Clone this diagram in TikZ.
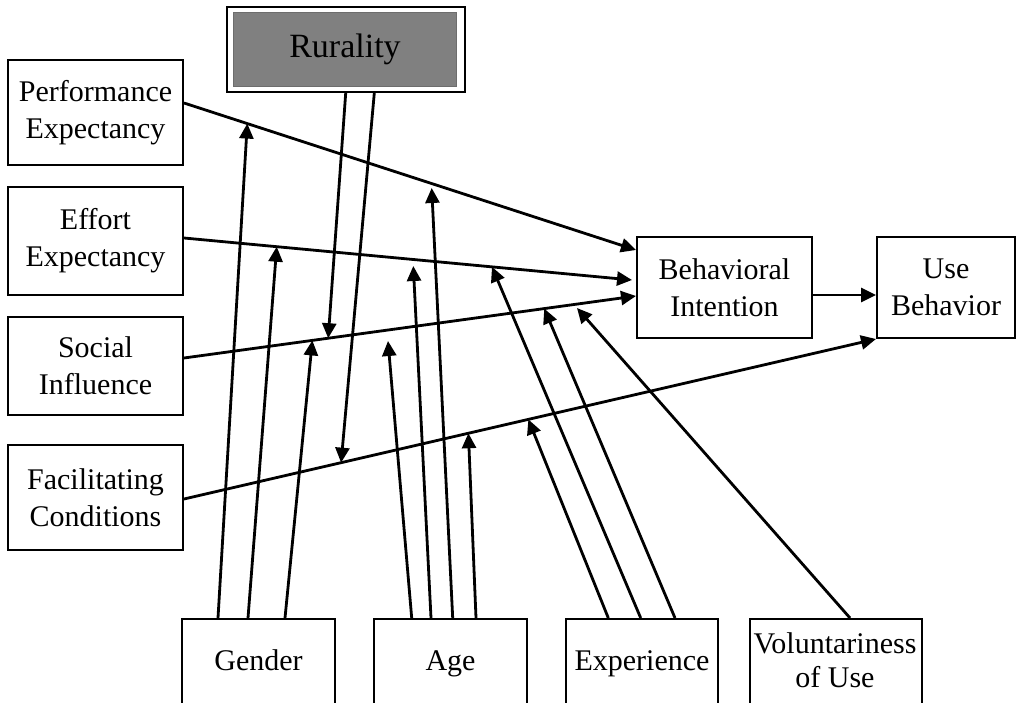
\documentclass[tikz,border=0pt]{standalone}
\usepackage{fontspec}
\setmainfont{Liberation Serif}
\usetikzlibrary{arrows.meta,calc}
\definecolor{rgray}{HTML}{808080}
\begin{document}
\begin{tikzpicture}[x=1pt,y=-1pt,
  box/.style={draw, line width=2pt, inner sep=0pt, align=center, font=\fontsize{30}{37}\selectfont},
  txt/.style={inner sep=0pt, align=center, font=\fontsize{30}{34}\selectfont},
  con/.style={line width=2.8pt, -{Triangle[length=15pt,width=14pt]}}]
\useasboundingbox (0,0) rectangle (1018,703);
\clip (0,0) rectangle (1018,703);
% left predictors
\node[box, minimum width=175pt, minimum height=105pt] (pe) at (95.5,112.5) {Performance\\Expectancy};
\node[box, minimum width=175pt, minimum height=108pt] (ee) at (95.5,241) {Effort\\Expectancy};
\node[box, minimum width=175pt, minimum height=98pt] (si) at (95.5,366) {Social\\Influence};
\node[box, minimum width=175pt, minimum height=105pt] (fc) at (95.5,497.5) {Facilitating\\Conditions};
% rurality
\node[draw, line width=2.2pt, minimum width=238pt, minimum height=85pt, inner sep=0pt] (rurout) at (346,49.5) {};
\node[fill=rgray, draw=rgray!85!black, line width=1pt, minimum width=223pt, minimum height=74pt, inner sep=0pt, font=\fontsize{34}{40}\selectfont] (rur) at (345,49.5) {Rurality};
% outcomes
\node[box, minimum width=175pt, minimum height=101pt] (bi) at (724.5,287.5) {Behavioral\\Intention};
\node[box, minimum width=138pt, minimum height=101pt] (ub) at (946,287.5) {Use\\Behavior};
% moderators
\node[box, minimum width=153pt, minimum height=120pt, anchor=north] (gender) at (258.5,618) {};
\node[box, minimum width=153pt, minimum height=120pt, anchor=north] (age) at (450.5,618) {};
\node[box, minimum width=152pt, minimum height=120pt, anchor=north] (exp) at (642,618) {};
\node[box, minimum width=172pt, minimum height=120pt, anchor=north] (vol) at (836,618) {};
\node[txt, anchor=base] (gendert) at (258.5,670) {Gender};
\node[txt, anchor=base] (aget) at (450.5,670) {Age};
\node[txt, anchor=base] (expt) at (642,670) {Experience};
\node[txt, anchor=base] (volt) at (835,687) {Voluntariness\\of Use};
% main path end points
\coordinate (pes) at ($(pe.east)+(0,-9.5)$);
\coordinate (pee) at (bi.west |- 0,250);
\coordinate (ees) at (ee.east |- 0,238);
\coordinate (eee) at (632,280);
\coordinate (sis) at (si.east |- 0,358);
\coordinate (sie) at (bi.west |- 0,296);
\coordinate (fcs) at (fc.east |- 0,499);
\coordinate (fce) at (ub.south west);
\coordinate (bis) at (bi.east |- 0,295);
\coordinate (bie) at (ub.west |- 0,295);
\draw[con] (pes) -- (pee);
\draw[con] (ees) -- (eee);
\draw[con] (sis) -- (sie);
\draw[con] (fcs) -- (fce);
\draw[con] (bis) -- (bie);
% free ends
\coordinate (a1e) at (388,341);
\coordinate (a2e) at (413.3,266);
\coordinate (a3e) at (431.7,188);
\coordinate (ve) at (577,308);
% gender
\draw[con] (gender.north -| 218,0) -- ($(pes)!0.140!(pee)$);
\draw[con] (gender.north -| 248,0) -- ($(ees)!0.207!(eee)$);
\draw[con] (gender.north -| 285,0) -- ($(sis)!0.284!(sie)$);
% rurality
\draw[con] (rurout.south -| 345.7,0) -- ($(sis)!0.319!(sie)$);
\draw[con] (rurout.south -| 374.3,0) -- ($(fcs)!0.227!(fce)$);
% age
\draw[con] (age.north -| 411.7,0) -- (a1e);
\draw[con] (age.north -| 431,0) -- (a2e);
\draw[con] (age.north -| 452.7,0) -- (a3e);
\draw[con] (age.north -| 476,0) -- ($(fcs)!0.411!(fce)$);
% experience
\draw[con] (exp.north -| 608.3,0) -- ($(fcs)!0.4976!(fce)$);
\draw[con] (exp.north -| 640.7,0) -- ($(ees)!0.6875!(eee)$);
\draw[con] (exp.north -| 675,0) -- ($(sis)!0.797!(sie)$);
% voluntariness
\draw[con] (vol.north -| 850,0) -- (ve);
\end{tikzpicture}
\end{document}
